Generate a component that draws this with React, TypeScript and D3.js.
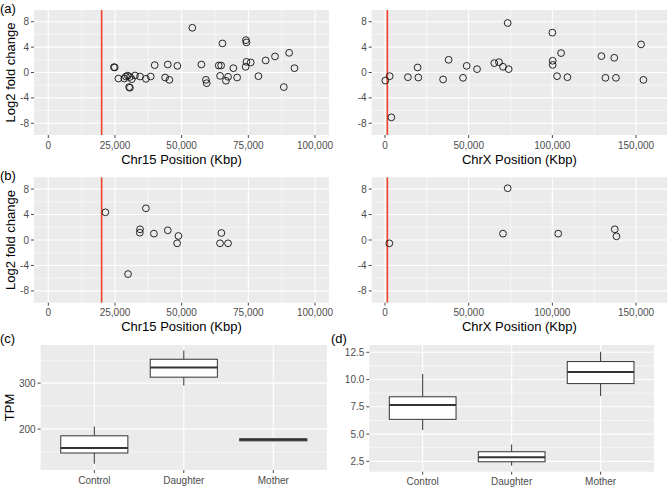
import React from "react";
import * as d3 from "d3";

// ---------- data ----------
const chr15PosA = [24600, 24900, 26300, 28500, 29100, 29800, 30600, 30300, 30600, 31300, 32500, 34400, 36600, 38400, 39900, 43800, 44800, 45400, 48400, 54000, 57400, 59100, 59400, 63900, 64800, 64400, 65300, 66600, 67400, 69400, 70800, 74100, 74300, 74300, 74000, 75900, 78800, 81500, 85000, 88300, 90300, 92300];
const chr15LfcA = [0.84, 0.8, -0.95, -0.95, -0.63, -0.5, -0.7, -2.3, -2.4, -1.05, -0.47, -0.63, -1.0, -0.63, 1.16, -0.79, 1.26, -1.16, 1.05, 7.05, 1.26, -1.16, -1.68, 1.1, 1.1, -0.53, 4.58, -1.3, -0.68, 0.68, -0.79, 5.1, 4.74, 1.68, 0.9, 1.58, -0.58, 1.9, 2.53, -2.3, 3.1, 0.68];
const chrXPosA = [200, 2800, 3800, 13700, 19500, 19900, 34700, 38000, 46600, 48800, 55000, 65300, 68100, 70500, 73300, 73900, 100000, 100200, 100200, 102800, 105200, 109000, 129300, 131700, 137000, 138000, 153000, 154400];
const chrXLfcA = [-1.27, -0.58, -7.07, -0.74, 0.79, -0.79, -1.1, 2.0, -0.84, 1.05, 0.53, 1.48, 1.63, 0.9, 7.8, 0.53, 6.28, 1.85, 1.2, -0.58, 3.06, -0.74, 2.58, -0.84, 2.32, -0.84, 4.43, -1.16];
const chr15PosB = [21400, 36600, 34400, 34300, 39600, 44800, 48800, 48300, 29900, 64900, 64400, 67400];
const chr15LfcB = [4.35, 4.98, 1.68, 1.15, 1.0, 1.52, 0.63, -0.52, -5.35, 1.1, -0.52, -0.52];
const chrXPosB = [2600, 70500, 73300, 103500, 137300, 138300];
const chrXLfcB = [-0.52, 1.0, 8.13, 1.0, 1.68, 0.58];
const chr15Marker = 20000;
const chrXMarker = 1400;

const groups = ["Control", "Daughter", "Mother"];
const tpmMin = [124.6, 294.8, 173.5];
const tpmQ1 = [148, 313, 174.5];
const tpmMed = [158.7, 334, 176.8];
const tpmQ3 = [185.4, 352, 179];
const tpmMax = [205.7, 371, 180.5];
const dMin = [5.37, 2.1, 8.48];
const dQ1 = [6.35, 2.46, 9.63];
const dMed = [7.66, 2.87, 10.7];
const dQ3 = [8.42, 3.38, 11.65];
const dMax = [10.52, 4.05, 12.55];

const lfcTicks = [-8, -4, 0, 4, 8];
const lfcMinor = [-6, -2, 2, 6];
const chr15Ticks = [0, 25000, 50000, 75000, 100000];
const chr15Minor = [12500, 37500, 62500, 87500];
const chrXTicks = [0, 50000, 100000, 150000];
const chrXMinor = [25000, 75000, 125000];
const tpmTicks = [200, 300];
const tpmMinor = [150, 250, 350];
const dTicks = [2.5, 5.0, 7.5, 10.0, 12.5];
const dMinor = [3.75, 6.25, 8.75, 11.25];

// ---------- style ----------
const FONT = "'Liberation Sans', Arial, Helvetica, sans-serif";
const BG = "#EBEBEB";
const TICK_TXT = "#4D4D4D";
const TICK_LINE = "#333333";
const RED = "#F2412A";

type Rect = { x0: number; x1: number; y0: number; y1: number };

function Scatter({ r, xDomain, xTicks, xMinor, pos, lfc, marker, xTitle, yTitle, id }: any) {
  const { x0, x1, y0, y1 } = r as Rect;
  const x = d3.scaleLinear().domain(xDomain).range([x0, x1]);
  const y = d3.scaleLinear().domain([-9.85, 9.85]).range([y1, y0]);
  const fmt = d3.format(",");
  return (
    <g>
      <defs>
        <clipPath id={id}>
          <rect x={x0} y={y0} width={x1 - x0} height={y1 - y0} />
        </clipPath>
      </defs>
      <rect x={x0} y={y0} width={x1 - x0} height={y1 - y0} fill={BG} />
      <g clipPath={`url(#${id})`}>
        {xMinor.map((t: number) => (
          <line key={"xm" + t} x1={x(t)} x2={x(t)} y1={y0} y2={y1} stroke="#fff" strokeWidth={0.55} />
        ))}
        {lfcMinor.map((t) => (
          <line key={"ym" + t} x1={x0} x2={x1} y1={y(t)} y2={y(t)} stroke="#fff" strokeWidth={0.55} />
        ))}
        {xTicks.map((t: number) => (
          <line key={"xg" + t} x1={x(t)} x2={x(t)} y1={y0} y2={y1} stroke="#fff" strokeWidth={1.1} />
        ))}
        {lfcTicks.map((t) => (
          <line key={"yg" + t} x1={x0} x2={x1} y1={y(t)} y2={y(t)} stroke="#fff" strokeWidth={1.1} />
        ))}
        <line x1={x(marker)} x2={x(marker)} y1={y0} y2={y1} stroke={RED} strokeWidth={1.6} />
        {pos.map((p: number, i: number) => (
          <circle key={i} cx={x(p)} cy={y(lfc[i])} r={3.4} fill="none" stroke="#111" strokeWidth={0.9} />
        ))}
      </g>
      {lfcTicks.map((t) => (
        <g key={"yt" + t}>
          <line x1={x0 - 3} x2={x0} y1={y(t)} y2={y(t)} stroke={TICK_LINE} strokeWidth={0.9} />
          <text x={x0 - 5} y={y(t)} dy="0.35em" textAnchor="end" fontSize={10} fill={TICK_TXT} fontFamily={FONT}>
            {t}
          </text>
        </g>
      ))}
      {xTicks.map((t: number) => (
        <g key={"xt" + t}>
          <line x1={x(t)} x2={x(t)} y1={y1} y2={y1 + 3} stroke={TICK_LINE} strokeWidth={0.9} />
          <text x={x(t)} y={y1 + 10} dy="0.35em" textAnchor="middle" fontSize={10} fill={TICK_TXT} fontFamily={FONT}>
            {fmt(t)}
          </text>
        </g>
      ))}
      {xTitle && (
        <text x={(x0 + x1) / 2} y={y1 + 24} dy="0.35em" textAnchor="middle" fontSize={13} fill="#000" fontFamily={FONT}>
          {xTitle}
        </text>
      )}
      {yTitle && (
        <text
          transform={`translate(10,${(y0 + y1) / 2}) rotate(-90)`}
          dy="0.35em"
          textAnchor="middle"
          fontSize={13}
          fill="#000"
          fontFamily={FONT}
        >
          {yTitle}
        </text>
      )}
    </g>
  );
}

function Boxes({ r, yDomain, ticks, minor, mins, q1s, meds, q3s, maxs, yTitle, fmtStr }: any) {
  const { x0, x1, y0, y1 } = r as Rect;
  const x = d3.scalePoint().domain(groups).range([x0, x1]).padding(0.6);
  const step = x.step();
  const y = d3.scaleLinear().domain(yDomain).range([y1, y0]);
  const fmt = d3.format(fmtStr);
  const bw = step * 0.75;
  return (
    <g>
      <rect x={x0} y={y0} width={x1 - x0} height={y1 - y0} fill={BG} />
      {minor.map((t: number) => (
        <line key={"ym" + t} x1={x0} x2={x1} y1={y(t)} y2={y(t)} stroke="#fff" strokeWidth={0.55} />
      ))}
      {ticks.map((t: number) => (
        <line key={"yg" + t} x1={x0} x2={x1} y1={y(t)} y2={y(t)} stroke="#fff" strokeWidth={1.1} />
      ))}
      {groups.map((g) => (
        <line key={"xg" + g} x1={x(g)!} x2={x(g)!} y1={y0} y2={y1} stroke="#fff" strokeWidth={1.1} />
      ))}
      {groups.map((g, i) => {
        const cx = x(g)!;
        return (
          <g key={"b" + g}>
            <line x1={cx} x2={cx} y1={y(maxs[i])} y2={y(q3s[i])} stroke={TICK_LINE} strokeWidth={1} />
            <line x1={cx} x2={cx} y1={y(q1s[i])} y2={y(mins[i])} stroke={TICK_LINE} strokeWidth={1} />
            <rect
              x={cx - bw / 2}
              y={y(q3s[i])}
              width={bw}
              height={y(q1s[i]) - y(q3s[i])}
              fill="#fff"
              stroke={TICK_LINE}
              strokeWidth={1}
            />
            <line x1={cx - bw / 2} x2={cx + bw / 2} y1={y(meds[i])} y2={y(meds[i])} stroke={TICK_LINE} strokeWidth={2} />
          </g>
        );
      })}
      {ticks.map((t: number) => (
        <g key={"yt" + t}>
          <line x1={x0 - 3} x2={x0} y1={y(t)} y2={y(t)} stroke={TICK_LINE} strokeWidth={0.9} />
          <text x={x0 - 5} y={y(t)} dy="0.35em" textAnchor="end" fontSize={10} fill={TICK_TXT} fontFamily={FONT}>
            {fmt(t)}
          </text>
        </g>
      ))}
      {groups.map((g) => (
        <g key={"xt" + g}>
          <line x1={x(g)!} x2={x(g)!} y1={y1} y2={y1 + 3} stroke={TICK_LINE} strokeWidth={0.9} />
          <text x={x(g)!} y={y1 + 10} dy="0.35em" textAnchor="middle" fontSize={10} fill={TICK_TXT} fontFamily={FONT}>
            {g}
          </text>
        </g>
      ))}
      {yTitle && (
        <text
          transform={`translate(9,${(y0 + y1) / 2}) rotate(-90)`}
          dy="0.35em"
          textAnchor="middle"
          fontSize={13}
          fill="#000"
          fontFamily={FONT}
        >
          {yTitle}
        </text>
      )}
    </g>
  );
}

export default function App() {
  const leftA = { x0: 34, x1: 329, y0: 10, y1: 135 };
  const rightA = { x0: 371.7, x1: 667, y0: 10, y1: 135 };
  const leftB = { x0: 34, x1: 329, y0: 177.3, y1: 302.7 };
  const rightB = { x0: 371.7, x1: 667, y0: 177.3, y1: 302.7 };
  const boxC = { x0: 40.6, x1: 327, y0: 345, y1: 470 };
  const boxD = { x0: 369.3, x1: 654, y0: 345, y1: 471.7 };
  const d15 = [-5362, 105250];
  const dX = [-7950, 168500];
  const lab = (t: string, xx: number, yy: number) => (
    <text x={xx} y={yy} dy="0.35em" fontSize={13} fill="#000" fontFamily={FONT}>
      {t}
    </text>
  );
  return (
    <svg width={667} height={487} style={{ position: "absolute", left: 0, top: 0, background: "#fff" }}>
      <rect width={667} height={487} fill="#fff" />
      <Scatter id="ca" r={leftA} xDomain={d15} xTicks={chr15Ticks} xMinor={chr15Minor} pos={chr15PosA} lfc={chr15LfcA} marker={chr15Marker} xTitle="Chr15 Position (Kbp)" yTitle="Log2 fold change" />
      <Scatter id="cb" r={rightA} xDomain={dX} xTicks={chrXTicks} xMinor={chrXMinor} pos={chrXPosA} lfc={chrXLfcA} marker={chrXMarker} xTitle="ChrX Position (Kbp)" />
      <Scatter id="cc" r={leftB} xDomain={d15} xTicks={chr15Ticks} xMinor={chr15Minor} pos={chr15PosB} lfc={chr15LfcB} marker={chr15Marker} xTitle="Chr15 Position (Kbp)" yTitle="Log2 fold change" />
      <Scatter id="cd" r={rightB} xDomain={dX} xTicks={chrXTicks} xMinor={chrXMinor} pos={chrXPosB} lfc={chrXLfcB} marker={chrXMarker} xTitle="ChrX Position (Kbp)" />
      <Boxes r={boxC} yDomain={[111, 383]} ticks={tpmTicks} minor={tpmMinor} mins={tpmMin} q1s={tpmQ1} meds={tpmMed} q3s={tpmQ3} maxs={tpmMax} yTitle="TPM" fmtStr="d" />
      <Boxes r={boxD} yDomain={[1.55, 13.17]} ticks={dTicks} minor={dMinor} mins={dMin} q1s={dQ1} meds={dMed} q3s={dQ3} maxs={dMax} fmtStr=".1f" />
      {lab("(a)", 0, 8)}
      {lab("(b)", 0, 175.5)}
      {lab("(c)", 0, 338)}
      {lab("(d)", 331, 338)}
    </svg>
  );
}
